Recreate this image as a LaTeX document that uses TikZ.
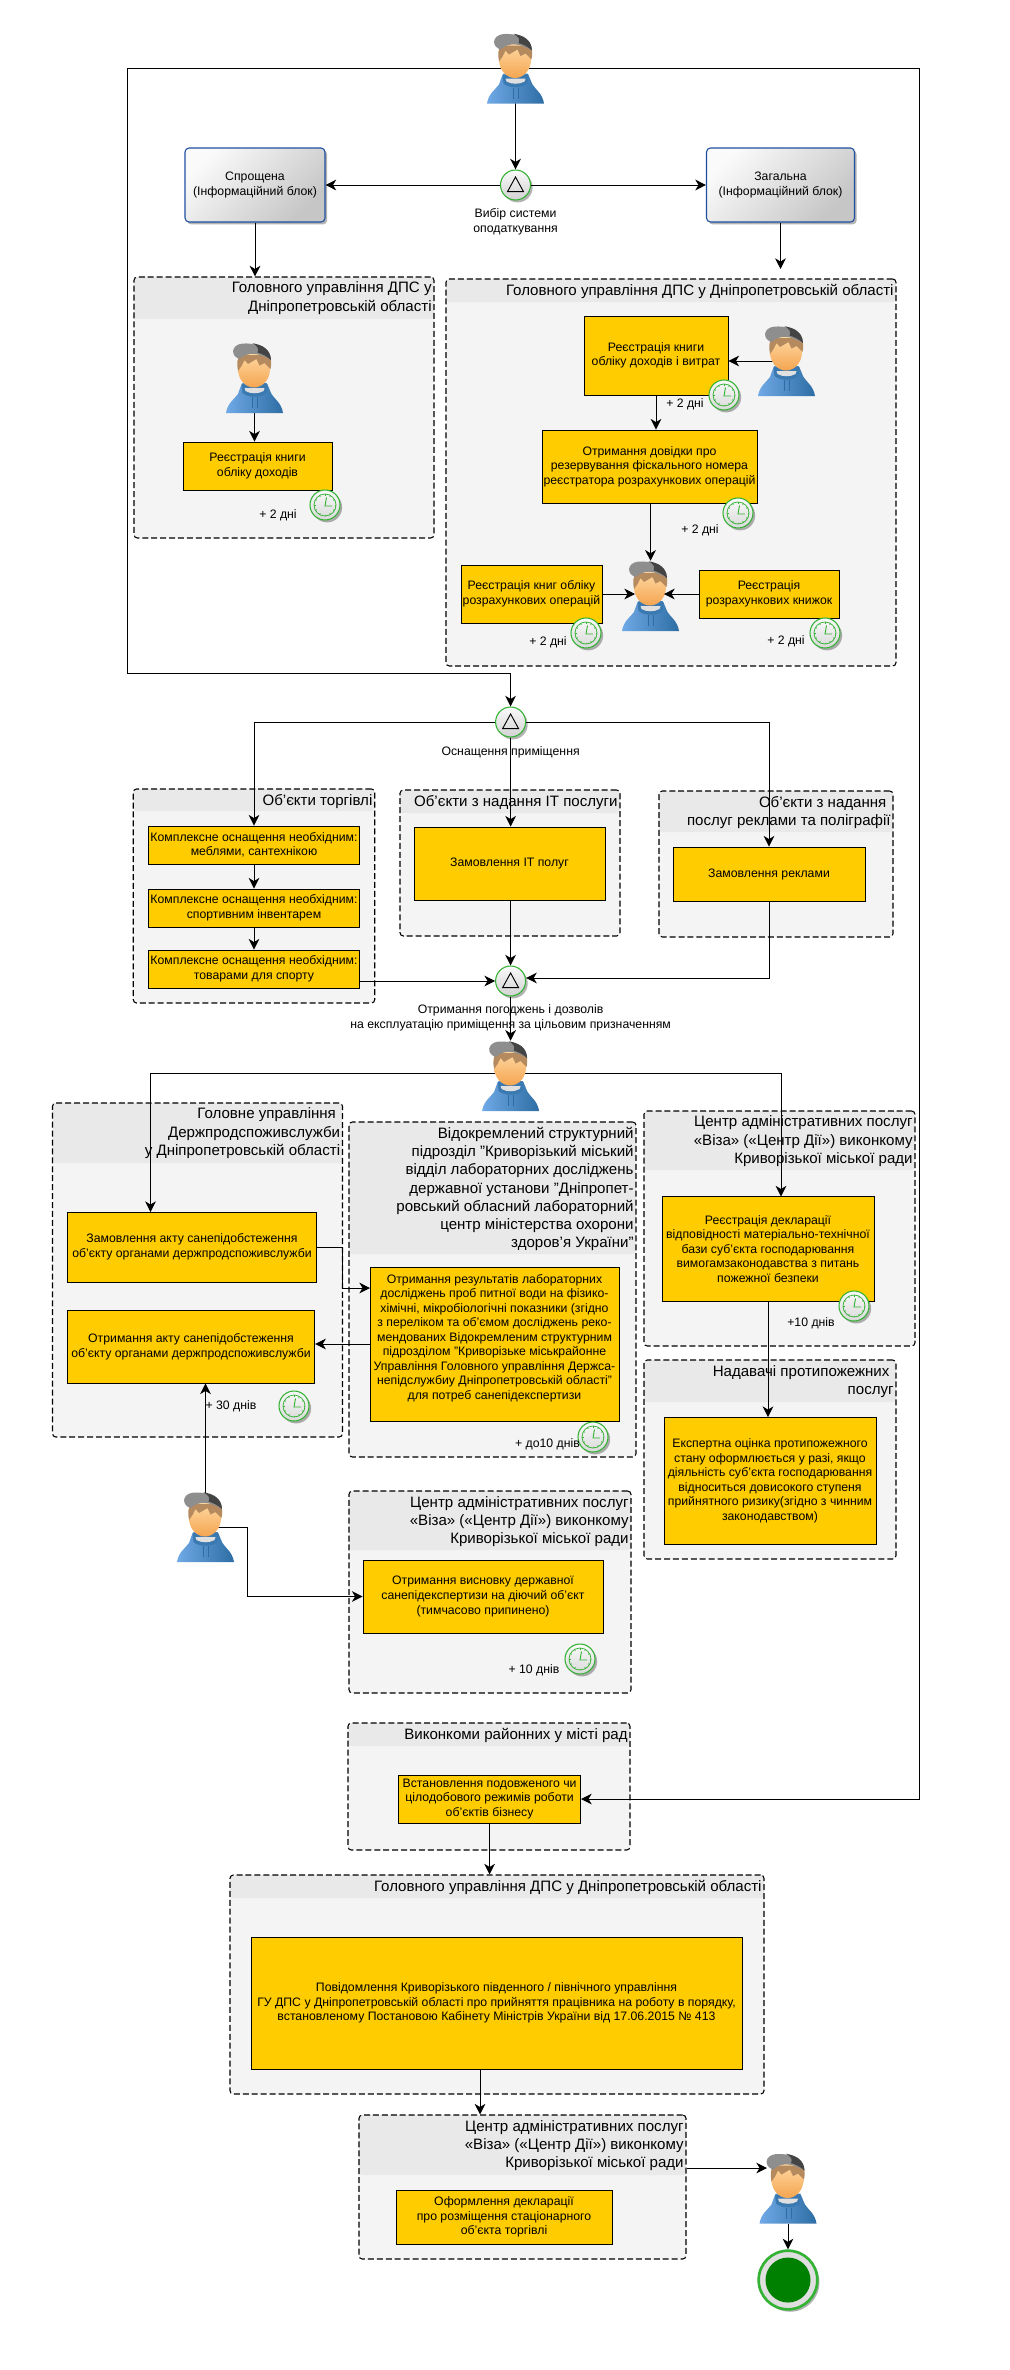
\documentclass[tikz,border=0pt]{standalone}
\usepackage{fontspec}
\setmainfont{Liberation Sans}[Ligatures=ResetAll]
\usetikzlibrary{arrows.meta,shadows,positioning}
\definecolor{gold}{HTML}{FFCC00}
\definecolor{poolgrey}{HTML}{F4F4F4}
\definecolor{headgrey}{HTML}{E9E9E9}
\definecolor{ringgreen}{HTML}{33B233}
\definecolor{infoblue}{HTML}{1F4F9F}
\definecolor{hoodlight}{HTML}{6FA9E6}
\definecolor{hooddark}{HTML}{2E6DA4}
\definecolor{skinlight}{HTML}{FFDDAA}
\definecolor{skindark}{HTML}{F5A550}
\definecolor{hair}{HTML}{B58A5E}
\definecolor{capgrey}{HTML}{8E8E8E}
\definecolor{capdark}{HTML}{444444}
\tikzset{
	wh/.style 2 args={minimum width=#1*.75pt, minimum height=#2*.75pt},
	softshadow/.style={drop shadow={shadow xshift=1.6pt, shadow yshift=-1.8pt, opacity=.3, fill=black}},
	pool/.style={draw, dash pattern=on 4.5pt off 2.2pt, rounded corners=2.5pt, fill=poolgrey, inner sep=0pt, line width=.8pt},
	hdr/.style={path picture={\fill[headgrey] (path picture bounding box.north west) rectangle ([yshift=-#1*.75pt]path picture bounding box.north east);}},
	pooltitle/.style={anchor=north east, align=right, inner sep=0pt, xshift=-2pt, yshift=-4pt, font=\fontsize{11.3}{13.7}\selectfont},
	task/.style={draw, fill=gold, line width=.65pt, align=center, inner sep=0pt, font=\fontsize{9.2}{10.9}\selectfont},
	info/.style={draw=infoblue, rounded corners=3pt, line width=.8pt, align=center, inner sep=0pt, left color=white!96!gray, right color=gray!45, shading angle=45, softshadow, font=\fontsize{9.2}{10.9}\selectfont},
	note/.style={align=center, inner sep=0pt, font=\fontsize{9.2}{11.2}\selectfont},
	gw/.style={circle, draw=ringgreen, line width=.8pt, minimum size=22.5pt, inner sep=0pt, top color=white!96!gray, bottom color=gray!35, softshadow,
		path picture={\draw[black, line width=.7pt, line join=miter] ([shift={(-6pt,-5pt)}]path picture bounding box.center) -- ([shift={(6pt,-5pt)}]path picture bounding box.center) -- ([shift={(0pt,6pt)}]path picture bounding box.center) -- cycle;}},
	clock/.style={circle, draw=ringgreen, line width=.8pt, minimum size=22.5pt, inner sep=0pt, top color=white!96!gray, bottom color=gray!30, softshadow,
		path picture={\begin{scope}[shift={(path picture bounding box.center)}]
			\draw[line width=.55pt] (0,0) circle (11);
			\foreach \a in {0,30,...,330} \draw[line width=.55pt] (\a:9.5) -- (\a:11);
			\draw[line width=.7pt] (1.5,-7.5) -- (0,1) -- (7,1);
		\end{scope}}},
	finish/.style={circle, draw=ringgreen, line width=2pt, minimum size=44pt, inner sep=0pt, fill=gray!25, softshadow,
		path picture={\fill[green!50!black] (path picture bounding box.center) circle (22.5);}},
	usr/.style={wh={57}{70}, inner sep=0pt},
	conn/.style={draw, -{Stealth[length=8pt, width=8pt, inset=2.4pt]}, line width=.75pt},
	usericon/.pic={
		\shade[left color=hoodlight, right color=hooddark, shading angle=90] (-28.5,35) .. controls (-27,25) and (-20,21) .. (-16.5,16) .. controls (-15,12) and (-14,8) .. (-12,5) -- (12,5) .. controls (14,8) and (15,12) .. (17,16) .. controls (20,21) and (27,25) .. (28.5,35) -- cycle;
		\fill[hooddark!80!hoodlight] (-13,6) -- (13,6) -- (12,15) .. controls (6,20) and (-6,20) .. (-12,15) -- cycle;
		\fill[black!12] (-10,10) -- (10,10) -- (9,13) .. controls (4,16) and (-4,16) .. (-9,13) -- cycle;
		\draw[hooddark, line width=.4pt] (-2,19) -- (-2,30) (3,19) -- (3,30);
		\shade[top color=skinlight, bottom color=skindark] (-.5,-9) ellipse (16 and 18.5);
		\fill[hair] (-16.5,-7) .. controls (-18,-14) and (-17,-20) .. (-15,-23) -- (15,-23) .. controls (17,-18) and (17,-14) .. (16,-9) -- (10,-15) -- (5,-12.5) -- (2,-19) -- (-6.5,-14) -- (-10,-18) -- (-13,-12) -- cycle;
		\fill[capgrey] (-15,-19) .. controls (-24,-22) and (-24,-33) .. (-12,-34.5) .. controls (0,-35) and (16,-32) .. (16.5,-18) .. controls (5,-25) and (-6,-27) .. (-15,-19) -- cycle;
		\fill[capdark] (-2,-34.8) .. controls (8,-33) and (16,-29) .. (16.5,-18) .. controls (12,-22) and (8,-24) .. (3,-25.5) .. controls (5,-29) and (3,-32) .. (-2,-34.8) -- cycle;
	}
}

\begin{document}
\begin{tikzpicture}[x=.75pt, y=-.75pt]
	\useasboundingbox (0,0) rectangle (1010,2370);
	% pools
	\node[pool, wh={300}{261}, hdr=42] (p1) at (284,407.5) {};
	\node[pool, wh={450}{387}, hdr=23] (p2) at (671,472.5) {};
	\node[pool, wh={241.5}{214}, hdr=22] (p3) at (254,896) {};
	\node[pool, wh={220}{146}, hdr=23] (p4) at (510,863) {};
	\node[pool, wh={234}{146}, hdr=41] (p5) at (776,864) {};
	\node[pool, wh={290}{334}, hdr=60] (p6) at (197.5,1270) {};
	\node[pool, wh={287}{335}, hdr=132] (p7) at (492.5,1289.5) {};
	\node[pool, wh={271}{235}, hdr=59] (p8) at (779.5,1228.5) {};
	\node[pool, wh={252}{199}, hdr=42] (p9) at (770,1459.5) {};
	\node[pool, wh={282}{202}, hdr=59] (p10) at (490,1592) {};
	\node[pool, wh={282}{127}, hdr=23] (p11) at (489,1786.5) {};
	\node[pool, wh={534}{219}, hdr=23] (p12) at (497,1984.5) {};
	\node[pool, wh={327}{144}, hdr=60] (p13) at (522.5,2187) {};
	\node[pooltitle] (t1) at (p1.north east) {Головного управління ДПС у\\Дніпропетровській області};
	\node[pooltitle] (t2) at (p2.north east) {Головного управління ДПС у Дніпропетровській області};
	\node[pooltitle] (t3) at (p3.north east) {Об'єкти торгівлі};
	\node[pooltitle] (t4) at (p4.north east) {Об'єкти з надання IT послуги};
	\node[pooltitle] (t5) at (p5.north east) {Об'єкти з надання\ \ \\послуг реклами та поліграфії};
	\node[pooltitle] (t6) at (p6.north east) {Головне управління\ \ \\Держпродспоживслужби\ \ \\у Дніпропетровській області};
	\node[pooltitle] (t7) at (p7.north east) {Відокремлений структурний\ \\підрозділ "Криворізький міський\\відділ лабораторних досліджень\\державної установи "Дніпропет-\\ровський обласний лабораторний\\центр міністерства охорони\\здоров'я України"};
	\node[pooltitle] (t8) at (p8.north east) {Центр адміністративних послуг\\«Віза» («Центр Дії») виконкому\ \\Криворізької міської ради};
	\node[pooltitle] (t9) at (p9.north east) {Надавачі протипожежних\ \ \\послуг};
	\node[pooltitle] (t10) at (p10.north east) {Центр адміністративних послуг\\«Віза» («Центр Дії») виконкому\ \\Криворізької міської ради};
	\node[pooltitle] (t11) at (p11.north east) {Виконкоми районних у місті рад};
	\node[pooltitle] (t12) at (p12.north east) {Головного управління ДПС у Дніпропетровській області};
	\node[pooltitle] (t13) at (p13.north east) {Центр адміністративних послуг\\«Віза» («Центр Дії») виконкому\ \\Криворізької міської ради};
	% blocks
	\node[info, wh={140}{74}] (i1) at (255,185) {Спрощена\\(Інформаційний блок)};
	\node[info, wh={148}{74}] (i2) at (780.5,185) {Загальна\\(Інформаційний блок)};
	\node[gw] (g1) at (515.5,185) {};
	\node[gw] (g2) at (510.6,722) {};
	\node[gw] (g3) at (510.6,981) {};
	\node[note] (n1) at (515.5,221.5) {Вибір системи\\оподаткування};
	\node[note] (n2) at (510.6,752) {Оснащення приміщення};
	\node[note] (n3) at (510.6,1017.5) {Отримання погоджень і дозволів\\на експлуатацію приміщення за цільовим призначенням};
	\node[task, wh={149}{48}] (b1) at (257.5,466) {Реєстрація книги\\обліку доходів};
	\node[task, wh={144}{79}] (b2) at (656,355.5) {Реєстрація книги\\обліку доходів і витрат};
	\node[task, wh={215}{73}] (b3) at (649.5,466.5) {Отримання довідки про\\резервування фіскального номера\\реєстратора розрахункових операцій};
	\node[task, wh={141}{58}] (b4) at (531.5,594) {Реєстрація книг обліку\\розрахункових операцій};
	\node[task, wh={140}{48}] (b5) at (769,594) {Реєстрація\\розрахункових книжок};
	\node[task, wh={210.5}{38}] (b6) at (254,845) {Комплексне оснащення необхідним:\\меблями, сантехнікою};
	\node[task, wh={210.5}{38}] (b7) at (254,908) {Комплексне оснащення необхідним:\\спортивним інвентарем};
	\node[task, wh={210.5}{38}] (b8) at (254,969) {Комплексне оснащення необхідним:\\товарами для спорту};
	\node[task, wh={191}{73}] (b9) at (509.5,863.5) {Замовлення IT полуг};
	\node[task, wh={192}{54}] (b10) at (769,874) {Замовлення реклами};
	\node[task, wh={249.5}{70}] (b11) at (192,1247) {Замовлення акту санепідобстеження\\об'єкту органами держпродспоживслужби};
	\node[task, wh={247.5}{73}] (b12) at (191,1346.5) {Отримання акту санепідобстеження\\об'єкту органами держпродспоживслужби};
	\node[task, wh={249}{154}] (b13) at (494.5,1344) {Отримання результатів лабораторних\\досліджень проб питної води на фізико-\\хімічні, мікробіологічні показники (згідно\\з переліком та об'ємом досліджень реко-\\мендованих Відокремленим структурним\\підрозділом "Криворізьке міськрайонне\\Управління Головного управління Держса-\\непідслужбиу Дніпропетровській області"\\для потреб санепідекспертизи\\\mbox{}};
	\node[task, wh={212}{105}] (b14) at (768,1249) {Реєстрація декларації\\відповідності матеріально-технічної\\бази суб'єкта господарювання\\вимогамзаконодавства з питань\\пожежної безпеки};
	\node[task, wh={212}{127}] (b15) at (770,1481) {Експертна оцінка протипожежного\\стану оформлюється у разі, якщо\\діяльність суб'єкта господарювання\\відноситься довисокого ступеня\\прийнятного ризику(згідно з чинним\\законодавством)};
	\node[task, wh={240}{73}] (b16) at (483,1596.5) {Отримання висновку державної\\санепідекспертизи на діючий об'єкт\\(тимчасово припинено)};
	\node[task, wh={182}{48}] (b17) at (489.6,1799) {Встановлення подовженого чи\\цілодобового режимів роботи\\об'єктів бізнесу};
	\node[task, wh={491}{132}] (b18) at (496.5,2003) {Повідомлення Криворізького південного / північного управління\\ГУ ДПС у Дніпропетровській області про прийняття працівника на роботу в порядку,\\встановленому Постановою Кабінету Міністрів України від 17.06.2015 № 413};
	\node[task, wh={216}{54}] (b19) at (504,2217) {Оформлення декларації\\про розміщення стаціонарного\\об'єкта торгівлі};
	\node[clock] (c1) at (325,505) {};
	\node[clock] (c2) at (724,395) {};
	\node[clock] (c3) at (738,513) {};
	\node[clock] (c4) at (586,633) {};
	\node[clock] (c5) at (825,633) {};
	\node[clock] (c6) at (294,1406) {};
	\node[clock] (c7) at (593,1437) {};
	\node[clock] (c8) at (854,1306) {};
	\node[clock] (c9) at (580,1659) {};
	\node[note] (d1) at (278,515) {+ 2 дні};
	\node[note] (d2) at (685,404) {+ 2 дні};
	\node[note] (d3) at (700,530) {+ 2 дні};
	\node[note] (d4) at (548,642) {+ 2 дні};
	\node[note] (d5) at (786,641) {+ 2 дні};
	\node[note] (d6) at (231,1406) {+ 30 днів};
	\node[note] (d7) at (547.5,1444) {+ до10 днів};
	\node[note] (d8) at (811,1323) {+10 днів};
	\node[note] (d9) at (534,1670) {+ 10 днів};
	% actors
	\node[usr] (u1) at (515.5,68.5) {};
	\node[usr] (u2) at (254.5,378) {};
	\node[usr] (u3) at (786.5,361) {};
	\node[usr] (u4) at (650.5,596) {};
	\node[usr] (u5) at (510.6,1076) {};
	\node[usr] (u6) at (205.5,1527) {};
	\node[usr] (u7) at (788,2188.5) {};
	\node[finish] (stop) at (788,2280) {};
	% turning points
	\coordinate (ol) at (127,673);
	\coordinate (or) at (919,1799);
	\coordinate (a1) at (780.5,269);
	\coordinate (a2) at (150.5,1212);
	\coordinate (a3) at (781,1196.5);
	\coordinate (a4) at (370,1288);
	\coordinate (a5) at (247,1596.5);
	\coordinate (a6) at (480,2069);
	\coordinate (e1) at (635,594);
	\coordinate (e2) at (664,594);
	\coordinate (e3) at (767,2168);
	% connectors
	\draw[conn] (u1.center) -- (g1);
	\draw[conn] (g1) -- (i1);
	\draw[conn] (g1) -- (i2);
	\draw[conn] (i1.south) -- (i1.south |- p1.north);
	\draw[conn] (i2.south) -- (a1);
	\draw[conn] (u1.center) -| (ol) -| (g2);
	\draw[conn] (u1.center) -| (or) -- (b17);
	\draw[conn] (u2.south) -- (u2.south |- b1.north);
	\draw[conn] (u3.center) -- (u3.center -| b2.east);
	\draw[conn] (b2.south) -- (b2.south |- b3.north);
	\draw[conn] (b3.south -| u4) -- (u4.north);
	\draw[conn] (g2) -| (b6.north);
	\draw[conn] (g2) -- (g2 |- b9.north);
	\draw[conn] (g2) -| (b10.north);
	\draw[conn] (b6) -- (b7);
	\draw[conn] (b7) -- (b8);
	\draw[conn] (b8.east |- g3) -- (g3);
	\draw[conn] (g3 |- b9.south) -- (g3);
	\draw[conn] (b10.south) |- ([yshift=2.25pt]g3.east);
	\draw[conn] (g3) -- (u5);
	\draw[conn] ([yshift=2.25pt]u5.center) -| (a2);
	\draw[conn] ([yshift=2.25pt]u5.center) -| (a3);
	\draw[conn] (b11.east) -- ++(25.5,0) |- (a4);
	\draw[conn] (b13.west) -- (b13.west -| b12.east);
	\draw[conn] (u6.center) -- (u6.center |- b12.south);
	\draw[conn] (u6.center) -| (a5) -- (b16.west);
	\draw[conn] (b14.south) -- (b14.south |- b15.north);
	\draw[conn] (b17.south) -- (b17.south |- p12.north);
	\draw[conn] (a6) -- (a6 |- p13.north);
	\draw[conn] (u7.south) -- (stop);
	% icons over the lines
	\foreach \n in {u1,u2,u3,u4,u5,u6,u7}
		\pic at (\n) {usericon};
	\draw[conn] (b4.east) -- (e1);
	\draw[conn] (b5.west) -- (e2);
	\draw[conn] (e3 -| p13.east) -- (e3);
\end{tikzpicture}
\end{document}
